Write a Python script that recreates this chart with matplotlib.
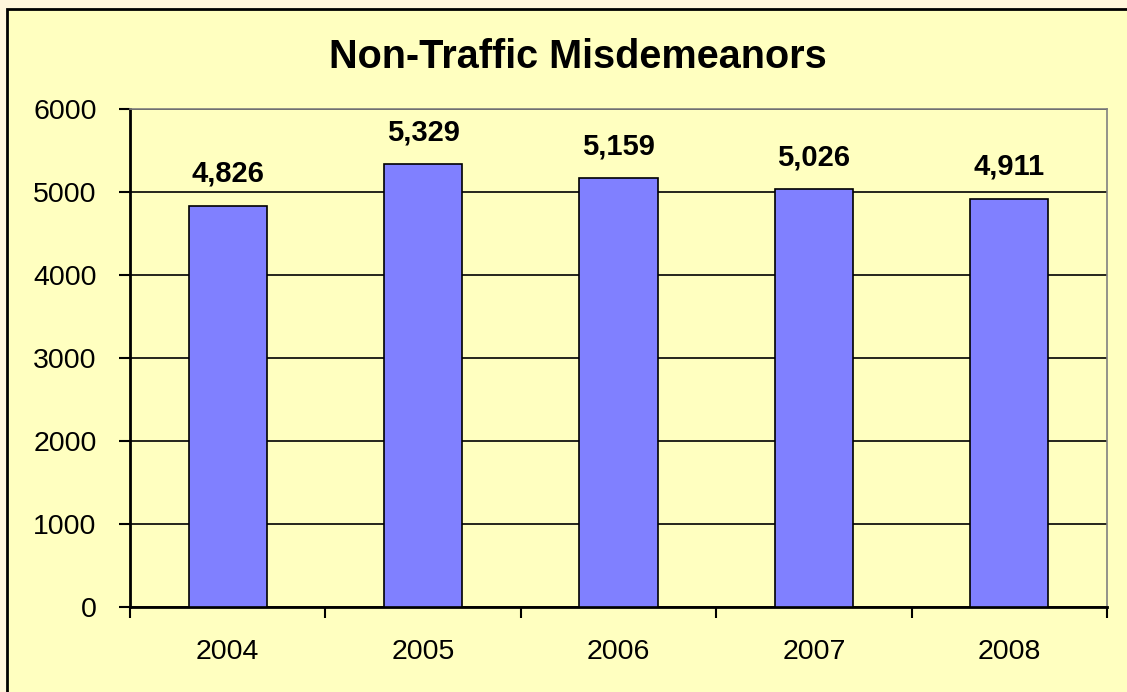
import matplotlib
matplotlib.use("Agg")
import matplotlib.pyplot as plt
from matplotlib.patches import Rectangle

years = ["2004", "2005", "2006", "2007", "2008"]
values = [4826, 5329, 5159, 5026, 4911]
value_labels = ["4,826", "5,329", "5,159", "5,026", "4,911"]
title = "Non-Traffic Misdemeanors"
yticks = [0, 1000, 2000, 3000, 4000, 5000, 6000]

plt.rcParams['font.family'] = ['Liberation Sans', 'DejaVu Sans']

W, H = 1127, 692
fig = plt.figure(figsize=(W / 100, H / 100), dpi=100)
fig.patch.set_facecolor('#FFF6DC')

# chart area with border (only left/top visible)
fig.patches.append(Rectangle((7 / W, -0.1), 1.2, 1 - 9 / H + 0.1,
                             transform=fig.transFigure, facecolor='#FFFFC0',
                             edgecolor='black', linewidth=2, zorder=-10))

ax = fig.add_axes([130 / W, 1 - 607 / H, (1107 - 130) / W, (607 - 108.5) / H])
ax.set_zorder(5)
ax.set_facecolor('#FFFFC0')
x = list(range(len(years)))
ax.bar(x, values, width=0.4, color='#8080FF', edgecolor='black', linewidth=1.2, zorder=3)

ax.set_xlim(-0.5, len(years) - 0.5)
ax.set_ylim(0, 6000)
ax.set_yticks(yticks)
ax.set_yticklabels([str(t) for t in yticks], fontsize=20.5)
ax.yaxis.grid(True, color='black', linewidth=1.2, zorder=1)
ax.set_axisbelow(True)

# category ticks at boundaries, labels at centers
ax.set_xticks([i - 0.5 for i in range(len(years) + 1)])
ax.set_xticklabels([])
ax.set_xticks(x, minor=True)
ax.set_xticklabels(years, minor=True, fontsize=20.5)
ax.tick_params(axis='x', which='minor', length=0, pad=23)
ax.tick_params(axis='x', which='major', length=8, width=1.5, direction='out')
ax.tick_params(axis='y', length=8, width=1.5, direction='out', pad=16)

for side in ['top', 'right']:
    ax.spines[side].set_color('#808080')
    ax.spines[side].set_linewidth(1.2)
for side in ['left', 'bottom']:
    ax.spines[side].set_color('black')
    ax.spines[side].set_linewidth(2)

for xi, v, lab in zip(x, values, value_labels):
    ax.annotate(lab, (xi, v), xytext=(0, 13), textcoords='offset points',
                ha='center', va='bottom', fontsize=21, fontweight='bold')

fig.text(577.5 / W, 1 - 57 / H, title, ha='center', va='center',
         fontsize=28.5, fontweight='bold')

fig.savefig("out.png", dpi=100, facecolor=fig.get_facecolor())
